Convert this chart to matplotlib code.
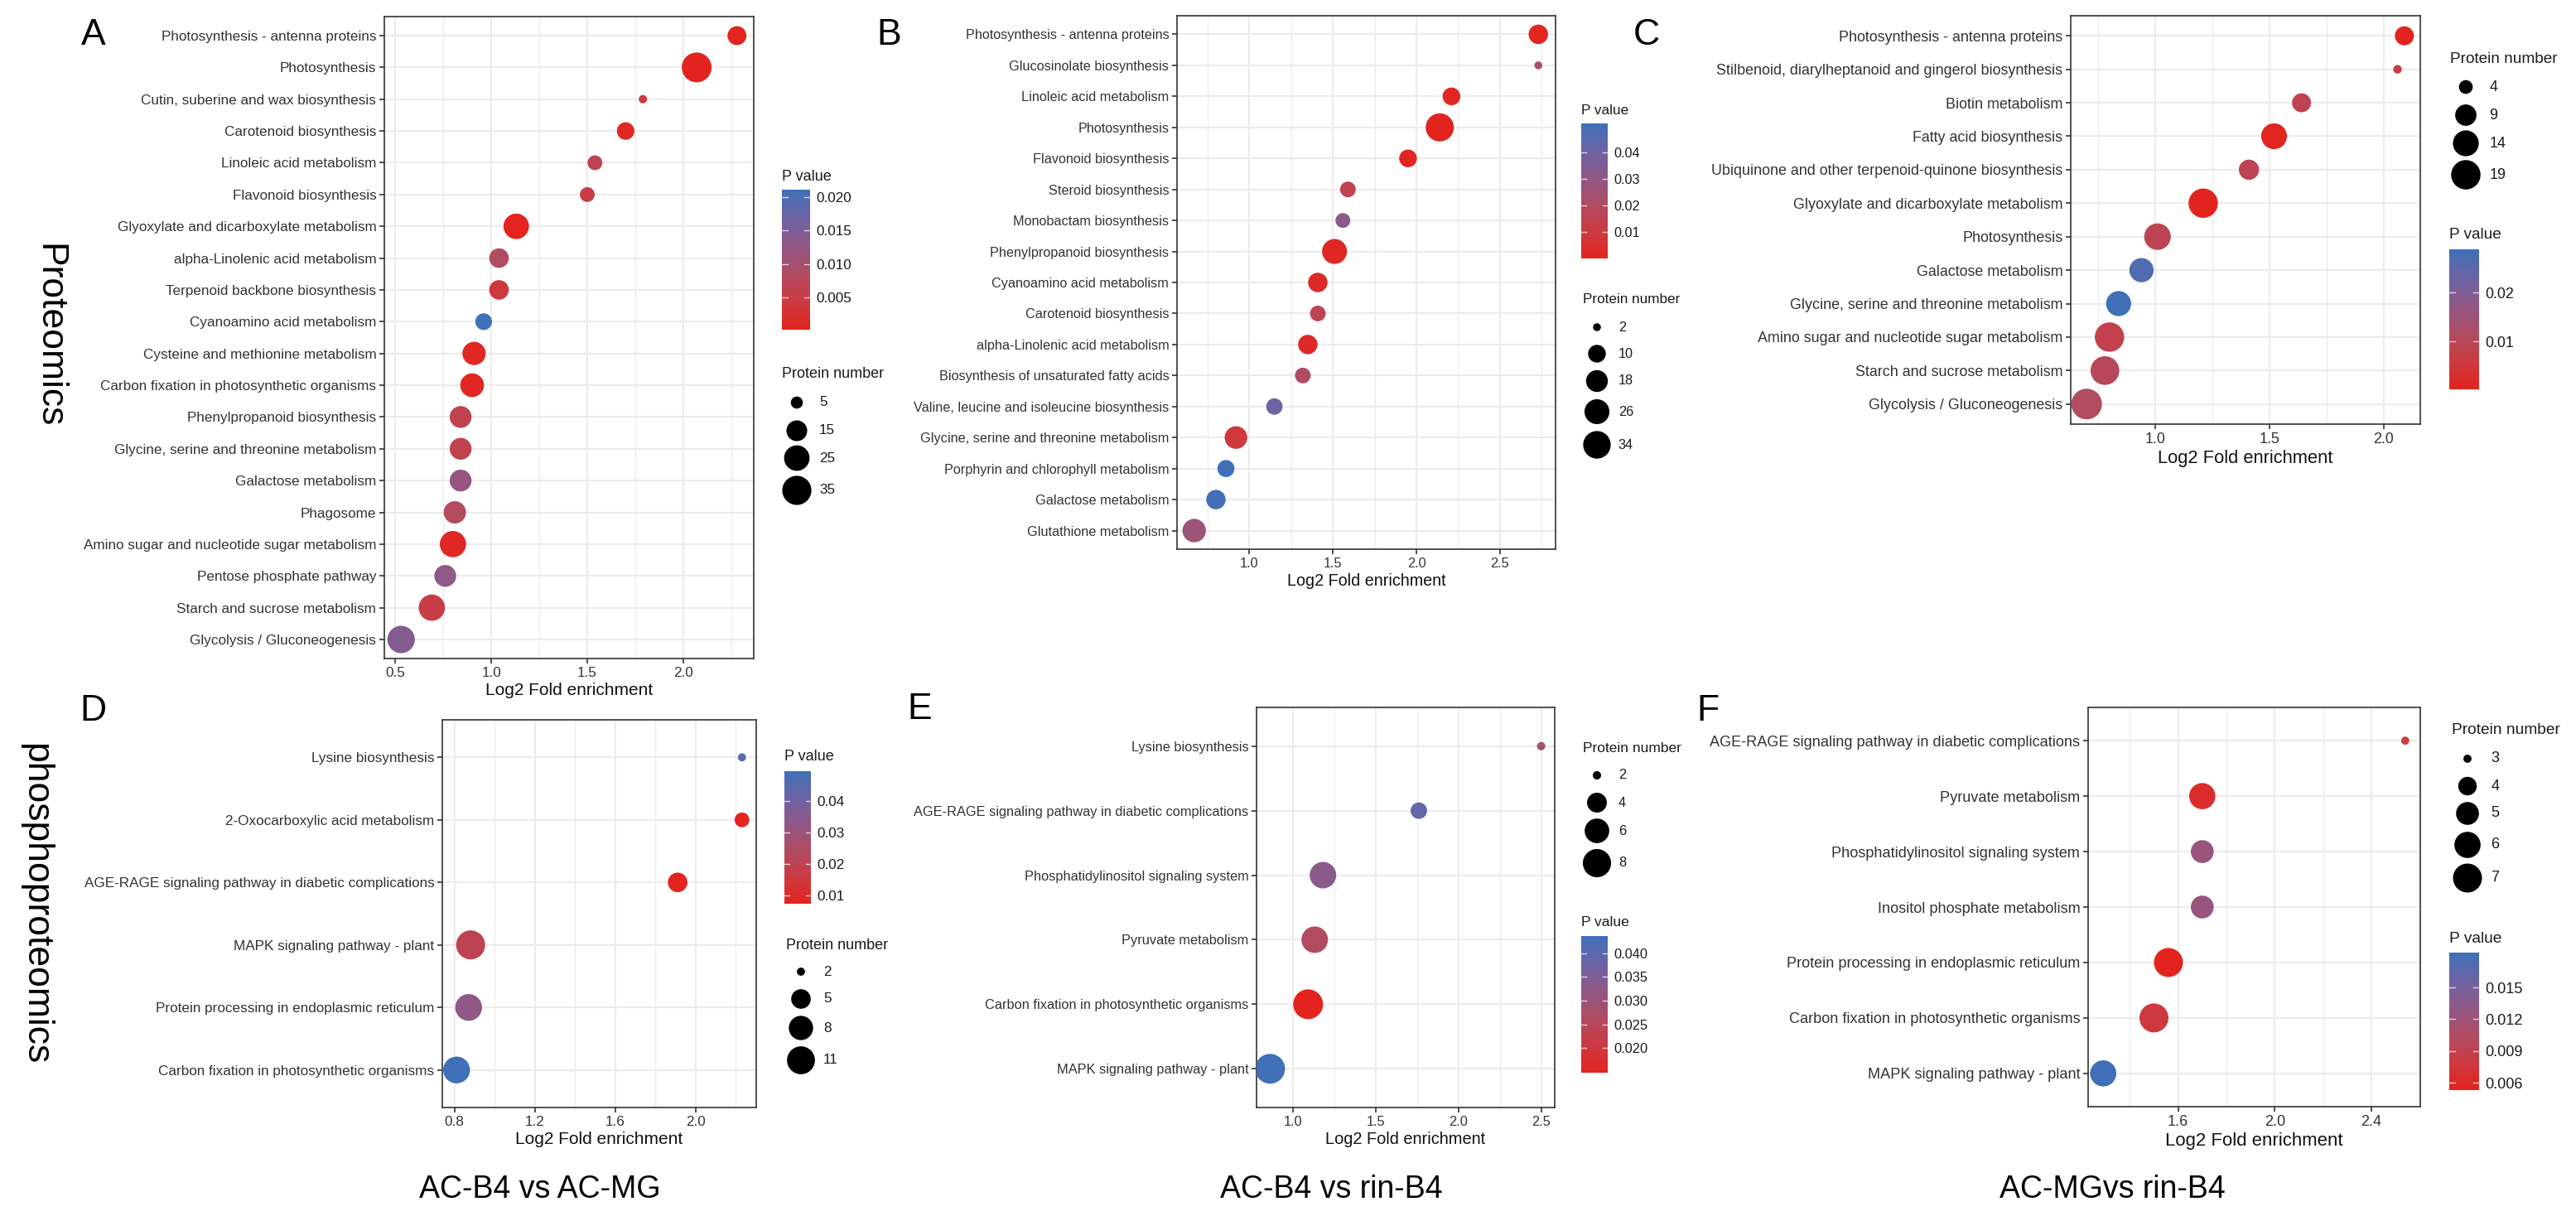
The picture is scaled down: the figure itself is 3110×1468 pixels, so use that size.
import numpy as np
import matplotlib
matplotlib.use('Agg')
import matplotlib.pyplot as plt
from matplotlib.colors import LinearSegmentedColormap, Normalize

plt.rcParams['font.family'] = ['Liberation Sans', 'DejaVu Sans']

W, H = 3110, 1468

# ---- panel A : proteomics, AC-B4 vs AC-MG
a_terms = ['Photosynthesis - antenna proteins', 'Photosynthesis', 'Cutin, suberine and wax biosynthesis',
           'Carotenoid biosynthesis', 'Linoleic acid metabolism', 'Flavonoid biosynthesis',
           'Glyoxylate and dicarboxylate metabolism', 'alpha-Linolenic acid metabolism',
           'Terpenoid backbone biosynthesis', 'Cyanoamino acid metabolism', 'Cysteine and methionine metabolism',
           'Carbon fixation in photosynthetic organisms', 'Phenylpropanoid biosynthesis',
           'Glycine, serine and threonine metabolism', 'Galactose metabolism', 'Phagosome',
           'Amino sugar and nucleotide sugar metabolism', 'Pentose phosphate pathway',
           'Starch and sucrose metabolism', 'Glycolysis / Gluconeogenesis']
a_fold = [2.28, 2.07, 1.79, 1.70, 1.54, 1.50, 1.13, 1.04, 1.04, 0.96, 0.91, 0.90, 0.84, 0.84, 0.84, 0.81, 0.80, 0.76, 0.69, 0.53]
a_count = [12, 37, 4, 10, 7, 7, 25, 13, 13, 9, 20, 21, 17, 17, 17, 18, 27, 17, 27, 30]
a_p = [0.0004, 0.0002, 0.004, 0.001, 0.0065, 0.005, 0.0003, 0.0085, 0.004, 0.0211, 0.001, 0.0008,
       0.006, 0.006, 0.012, 0.008, 0.001, 0.013, 0.005, 0.014]

# ---- panel B : proteomics, AC-B4 vs rin-B4
b_terms = ['Photosynthesis - antenna proteins', 'Glucosinolate biosynthesis', 'Linoleic acid metabolism',
           'Photosynthesis', 'Flavonoid biosynthesis', 'Steroid biosynthesis', 'Monobactam biosynthesis',
           'Phenylpropanoid biosynthesis', 'Cyanoamino acid metabolism', 'Carotenoid biosynthesis',
           'alpha-Linolenic acid metabolism', 'Biosynthesis of unsaturated fatty acids',
           'Valine, leucine and isoleucine biosynthesis', 'Glycine, serine and threonine metabolism',
           'Porphyrin and chlorophyll metabolism', 'Galactose metabolism', 'Glutathione metabolism']
b_fold = [2.73, 2.73, 2.21, 2.14, 1.95, 1.59, 1.56, 1.51, 1.41, 1.41, 1.35, 1.32, 1.15, 0.92, 0.86, 0.80, 0.67]
b_count = [13, 2, 10, 36, 10, 7, 6, 26, 13, 7, 13, 7, 8, 20, 9, 13, 22]
b_p = [0.0005, 0.023, 0.001, 0.0001, 0.001, 0.015, 0.032, 0.002, 0.003, 0.015, 0.003, 0.02, 0.04,
       0.009, 0.051, 0.05, 0.027]

# ---- panel C : proteomics, AC-MG vs rin-B4
c_terms = ['Photosynthesis - antenna proteins', 'Stilbenoid, diarylheptanoid and gingerol biosynthesis',
           'Biotin metabolism', 'Fatty acid biosynthesis', 'Ubiquinone and other terpenoid-quinone biosynthesis',
           'Glyoxylate and dicarboxylate metabolism', 'Photosynthesis', 'Galactose metabolism',
           'Glycine, serine and threonine metabolism', 'Amino sugar and nucleotide sugar metabolism',
           'Starch and sucrose metabolism', 'Glycolysis / Gluconeogenesis']
c_fold = [2.09, 2.06, 1.64, 1.52, 1.41, 1.21, 1.01, 0.94, 0.84, 0.80, 0.78, 0.70]
c_count = [7, 3, 7, 14, 8, 19, 15, 12, 13, 19, 18, 21]
c_p = [0.0003, 0.006, 0.0087, 0.0008, 0.009, 0.0002, 0.009, 0.0265, 0.0288, 0.008, 0.010, 0.0115]

# ---- panel D : phosphoproteomics, AC-B4 vs AC-MG
d_terms = ['Lysine biosynthesis', '2-Oxocarboxylic acid metabolism',
           'AGE-RAGE signaling pathway in diabetic complications', 'MAPK signaling pathway - plant',
           'Protein processing in endoplasmic reticulum', 'Carbon fixation in photosynthetic organisms']
d_fold = [2.23, 2.23, 1.91, 0.88, 0.87, 0.81]
d_count = [2, 3, 5, 12, 10, 10]
d_p = [0.0445, 0.0076, 0.0074, 0.020, 0.033, 0.0495]

# ---- panel E : phosphoproteomics, AC-B4 vs rin-B4
e_terms = ['Lysine biosynthesis', 'AGE-RAGE signaling pathway in diabetic complications',
           'Phosphatidylinositol signaling system', 'Pyruvate metabolism',
           'Carbon fixation in photosynthetic organisms', 'MAPK signaling pathway - plant']
e_fold = [2.50, 1.76, 1.18, 1.13, 1.09, 0.86]
e_count = [2, 3, 7, 7, 9, 9]
e_p = [0.029, 0.039, 0.033, 0.026, 0.0148, 0.0436]

# ---- panel F : phosphoproteomics, AC-MG vs rin-B4
f_terms = ['AGE-RAGE signaling pathway in diabetic complications', 'Pyruvate metabolism',
           'Phosphatidylinositol signaling system', 'Inositol phosphate metabolism',
           'Protein processing in endoplasmic reticulum', 'Carbon fixation in photosynthetic organisms',
           'MAPK signaling pathway - plant']
f_fold = [2.54, 1.70, 1.70, 1.70, 1.56, 1.50, 1.29]
f_count = [3, 6, 5, 5, 7, 7, 6]
f_p = [0.0082, 0.0063, 0.0125, 0.0125, 0.0053, 0.0077, 0.0183]

pv_cmap = LinearSegmentedColormap.from_list(
    'pv', ['#E3241E', '#CC3B42', '#B04C62', '#915886', '#6C64A6', '#3F70B8'])

fig = plt.figure(figsize=(W / 100, H / 100), dpi=100)
over = fig.add_axes([0, 0, 1, 1])
over.set_xlim(0, W)
over.set_ylim(H, 0)
over.axis('off')

TXT = '#333333'


def rect(l, r, t, b):
    return [l / W, 1 - b / H, (r - l) / W, (b - t) / H]


def dot_px(v, lo, hi, dmax):
    v = np.asarray(v, dtype=float)
    return dmax * (0.28 + 0.72 * np.sqrt(np.clip((v - lo) / (hi - lo), 0, 1)))


def panel(box, terms, fold, count, pval, xticks, dmax, k):
    ax = fig.add_axes(rect(*box))
    n = len(terms)
    ypos = np.arange(n)[::-1]
    sz = (dot_px(count, min(count), max(count), dmax) * 0.72) ** 2
    ax.scatter(fold, ypos, s=sz, c=pval, cmap=pv_cmap, norm=Normalize(min(pval), max(pval)),
               linewidths=0, zorder=3)
    ax.set_yticks(ypos)
    ax.set_yticklabels(terms)
    ax.set_ylim(-0.6, n - 1 + 0.6)
    span = max(fold) - min(fold)
    lo, hi = min(fold) - 0.05 * span, max(fold) + 0.05 * span
    ax.set_xlim(lo, hi)
    step = xticks[1] - xticks[0]
    ax.set_xticks(xticks)
    ax.set_xticklabels(['%.1f' % x for x in xticks])
    minors = [x for x in np.arange(xticks[0] - step / 2, xticks[-1] + step, step)
              if lo < x < hi and min(abs(x - t) for t in xticks) > 1e-6]
    ax.set_xticks(minors, minor=True)
    ax.grid(which='major', color='#EBEBEB', lw=1.4)
    ax.grid(which='minor', axis='x', color='#EBEBEB', lw=0.8)
    ax.set_axisbelow(True)
    ax.tick_params(which='major', length=4, width=1.2, color='#333333', labelsize=12.3 * k,
                   labelcolor=TXT, pad=3)
    ax.tick_params(which='minor', length=0)
    for sp in ax.spines.values():
        sp.set_color('#333333')
        sp.set_linewidth(1.2)
    ax.set_xlabel('Log2 Fold enrichment', fontsize=15 * k, labelpad=3, color='#111111')
    return ax


def pbar(box, pval, ticks, fmt, title_y, k):
    cax = fig.add_axes(rect(*box))
    lo, hi = min(pval), max(pval)
    grad = np.linspace(lo, hi, 256).reshape(-1, 1)
    cax.imshow(grad, aspect='auto', cmap=pv_cmap, norm=Normalize(lo, hi), origin='lower',
               extent=[0, 1, lo, hi])
    cax.set_xlim(0, 1)
    cax.set_ylim(lo, hi)
    cax.set_xticks([])
    cax.yaxis.tick_right()
    cax.set_yticks(ticks)
    cax.set_yticklabels([fmt % t for t in ticks])
    cax.tick_params(axis='y', length=0, pad=5, labelsize=12.3 * k, labelcolor='#1a1a1a')
    for t in ticks:
        cax.plot([0, 0.2], [t, t], color='#f0f0f0', lw=1.0, alpha=0.8)
        cax.plot([0.8, 1], [t, t], color='#f0f0f0', lw=1.0, alpha=0.8)
    for sp in cax.spines.values():
        sp.set_visible(False)
    over.text(box[0], title_y, 'P value', fontsize=13 * k, ha='left', va='center', color='#1a1a1a')


def sizekey(x, title_y, key_ys, vals, count, dmax, k):
    over.text(x - 18 * k, title_y, 'Protein number', fontsize=13 * k, ha='left', va='center',
              color='#1a1a1a')
    d = dot_px(vals, min(count), max(count), dmax)
    over.scatter([x] * len(vals), key_ys, s=(d * 0.72) ** 2, color='black', linewidths=0)
    for y, v in zip(key_ys, vals):
        over.text(x + 27 * k, y, str(v), fontsize=12.3 * k, ha='left', va='center', color='#1a1a1a')


# ---- top row
panel((464, 910, 20, 795), a_terms, a_fold, a_count, a_p, [0.5, 1.0, 1.5, 2.0], 36, 1.0)
pbar((944, 978, 229, 398), a_p, [0.005, 0.010, 0.015, 0.020], '%.3f', 213, 1.0)
sizekey(962, 452, [486, 520, 553, 592], [5, 15, 25, 35], a_count, 36, 1.0)

panel((1421, 1878, 19, 663), b_terms, b_fold, b_count, b_p, [1.0, 1.5, 2.0, 2.5], 34, 0.95)
pbar((1909, 1941, 149, 312), b_p, [0.01, 0.02, 0.03, 0.04], '%.2f', 133, 0.95)
sizekey(1928, 362, [395, 427, 460, 497, 537], [2, 10, 18, 26, 34], b_count, 34, 0.95)

panel((2500, 2922, 19, 512), c_terms, c_fold, c_count, c_p, [1.0, 1.5, 2.0], 37, 1.05)
sizekey(2977, 71, [105, 139, 173, 211], [4, 9, 14, 19], c_count, 37, 1.05)
pbar((2957, 2993, 301, 470), c_p, [0.01, 0.02], '%.2f', 283, 1.05)

# ---- bottom row
panel((534, 913, 869, 1337), d_terms, d_fold, d_count, d_p, [0.8, 1.2, 1.6, 2.0], 35, 1.0)
pbar((947, 979, 931, 1091), d_p, [0.01, 0.02, 0.03, 0.04], '%.2f', 914, 1.0)
sizekey(967, 1141, [1173, 1206, 1241, 1280], [2, 5, 8, 11], d_count, 35, 1.0)

panel((1517, 1877, 854, 1337), e_terms, e_fold, e_count, e_p, [1.0, 1.5, 2.0, 2.5], 36, 0.96)
sizekey(1928, 903, [936, 969, 1003, 1042], [2, 4, 6, 8], e_count, 36, 0.96)
pbar((1909, 1941, 1130, 1295), e_p, [0.020, 0.025, 0.030, 0.035, 0.040], '%.3f', 1113, 0.96)

panel((2521, 2922, 854, 1336), f_terms, f_fold, f_count, f_p, [1.6, 2.0, 2.4], 35, 1.06)
sizekey(2979, 882, [916, 949, 982, 1020, 1060], [3, 4, 5, 6, 7], f_count, 35, 1.06)
pbar((2957, 2993, 1150, 1316), f_p, [0.006, 0.009, 0.012, 0.015], '%.3f', 1133, 1.06)

# ---- panel letters, row and column labels
for lab, x, y in [('A', 113, 43), ('B', 1073, 43), ('C', 1988, 43),
                  ('D', 112, 858), ('E', 1110, 856), ('F', 2062, 859)]:
    over.text(x, y, lab, fontsize=32, ha='center', va='center', color='black')

over.text(59, 405, 'Proteomics', fontsize=32, rotation=-90, ha='center', va='center')
over.text(43, 1091, 'phosphoproteomics', fontsize=32, rotation=-90, ha='center', va='center')

for lab, x in [('AC-B4 vs AC-MG', 652), ('AC-B4 vs rin-B4', 1607), ('AC-MGvs rin-B4', 2550)]:
    over.text(x, 1436, lab, fontsize=27, ha='center', va='center')

fig.savefig('out.png', dpi=100)
